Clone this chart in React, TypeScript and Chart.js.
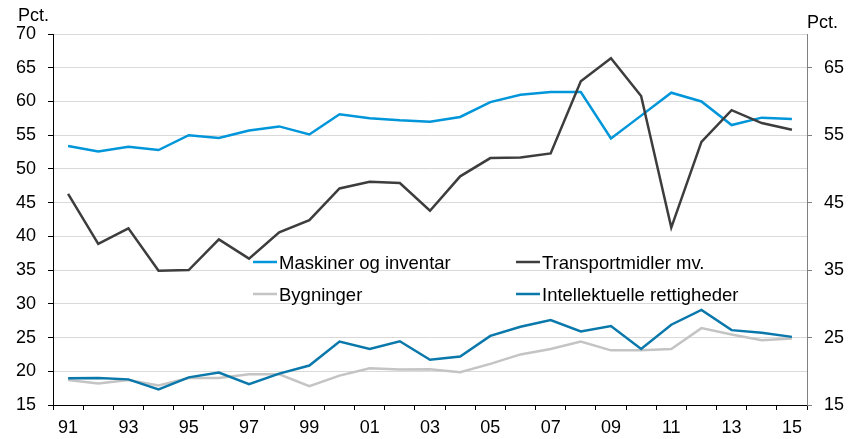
import { useEffect, useRef } from 'react';
import { Chart, registerables } from 'chart.js';

Chart.register(...registerables);

const years = ['91','92','93','94','95','96','97','98','99','00','01','02','03','04','05','06','07','08','09','10','11','12','13','14','15'];

const maskiner = [53.4, 52.6, 53.3, 52.8, 55.0, 54.6, 55.7, 56.3, 55.1, 58.1, 57.5, 57.2, 57.0, 57.7, 59.9, 61.0, 61.4, 61.4, 54.5, 57.9, 61.3, 60.0, 56.5, 57.6, 57.4];
const transport = [46.3, 38.9, 41.2, 34.9, 35.0, 39.55, 36.7, 40.6, 42.4, 47.1, 48.1, 47.9, 43.8, 48.9, 51.6, 51.7, 52.3, 63.0, 66.4, 60.8, 41.3, 54.0, 58.7, 56.8, 55.8];
const bygninger = [18.7, 18.2, 18.7, 17.9, 19.0, 19.0, 19.55, 19.55, 17.8, 19.35, 20.45, 20.25, 20.3, 19.85, 21.1, 22.5, 23.3, 24.4, 23.1, 23.1, 23.3, 26.4, 25.45, 24.6, 24.85];
const intellektuelle = [18.96, 19.0, 18.8, 17.3, 19.1, 19.8, 18.1, 19.65, 20.85, 24.4, 23.3, 24.45, 21.7, 22.2, 25.25, 26.6, 27.6, 25.9, 26.7, 23.3, 26.9, 29.1, 26.1, 25.7, 25.1];

const leftTicks = [15, 20, 25, 30, 35, 40, 45, 50, 55, 60, 65, 70];
const rightTicks = [15, 25, 35, 45, 55, 65];

const seriesNames = ['Maskiner og inventar', 'Transportmidler mv.', 'Bygninger', 'Intellektuelle rettigheder'];
const seriesColors = ['#0096d9', '#3d3d3d', '#c4c4c4', '#0a78aa'];

const FONT = "'Liberation Sans', Arial, Helvetica, sans-serif";

export default function App() {
  const ref = useRef<HTMLCanvasElement>(null);

  useEffect(() => {
    if (!ref.current) return;

    const overlay = {
      id: 'overlay',
      afterDraw(chart: any) {
        const ctx = chart.ctx;
        const area = chart.chartArea;
        ctx.save();
        ctx.fillStyle = '#000';
        ctx.font = `18px ${FONT}`;
        ctx.textAlign = 'left';
        ctx.textBaseline = 'alphabetic';
        ctx.fillText('Pct.', 18, 21);
        ctx.fillText('Pct.', area.right, 28);

        // legend (2 columns x 2 rows)
        const cols = [area.left + 200, area.left + 463];
        const rows = [area.top + 228, area.top + 260];
        const order = [0, 1, 2, 3];
        ctx.font = `18.5px ${FONT}`;
        order.forEach((i, k) => {
          const cx = cols[k % 2];
          const cy = rows[Math.floor(k / 2)];
          ctx.strokeStyle = seriesColors[i];
          ctx.lineWidth = 2.5;
          ctx.beginPath();
          ctx.moveTo(cx, cy);
          ctx.lineTo(cx + 24, cy);
          ctx.stroke();
          ctx.fillStyle = '#000';
          ctx.fillText(seriesNames[i], cx + 26, cy + 7);
        });
        ctx.restore();
      },
    };

    const seriesData = [maskiner, transport, bygninger, intellektuelle];
    const drawOrder = [2, 1, 3, 0];

    const chart = new Chart(ref.current, {
      type: 'line',
      data: {
        labels: years,
        datasets: seriesData.map((d, i) => ({
          label: seriesNames[i],
          data: d,
          borderColor: seriesColors[i],
          backgroundColor: seriesColors[i],
          borderWidth: 2.5,
          pointRadius: 0,
          tension: 0,
          fill: false,
          yAxisID: 'y',
          order: drawOrder[i],
        })),
      },
      options: {
        responsive: false,
        animation: false,
        devicePixelRatio: 1,
        layout: { padding: { top: 34, left: 0, right: 0, bottom: 0 } },
        plugins: {
          legend: { display: false },
          tooltip: { enabled: false },
          title: { display: false },
        },
        scales: {
          x: {
            type: 'category',
            offset: true,
            grid: {
              offset: true,
              drawOnChartArea: false,
              drawTicks: true,
              tickLength: 5,
              color: '#000',
              tickColor: '#000',
            },
            border: { display: true, color: '#000', width: 1 },
            ticks: {
              autoSkip: false,
              maxRotation: 0,
              minRotation: 0,
              padding: 7,
              color: '#000',
              font: { family: FONT, size: 18 },
              callback: (_v: any, i: number) => (i % 2 === 0 ? years[i] : ''),
            },
            afterFit: (s: any) => { s.height = 34; },
          },
          y: {
            type: 'linear',
            position: 'left',
            min: 15,
            max: 70,
            afterBuildTicks: (s: any) => { s.ticks = leftTicks.map((v) => ({ value: v })); },
            grid: {
              color: '#d9d9d9',
              lineWidth: 1,
              drawTicks: true,
              tickLength: 5,
              tickColor: '#000',
            },
            border: { display: true, color: '#000', width: 1 },
            ticks: {
              padding: 12,
              color: '#000',
              font: { family: FONT, size: 18 },
            },
            afterFit: (s: any) => { s.width = 53; },
          },
          y2: {
            type: 'linear',
            position: 'right',
            min: 15,
            max: 70,
            afterBuildTicks: (s: any) => { s.ticks = rightTicks.map((v) => ({ value: v })); },
            grid: {
              drawOnChartArea: false,
              drawTicks: true,
              tickLength: 5,
              color: '#808080',
              tickColor: '#808080',
            },
            border: { display: true, color: '#808080', width: 1 },
            ticks: {
              padding: 12,
              color: '#000',
              font: { family: FONT, size: 18 },
            },
            afterFit: (s: any) => { s.width = 45; },
          },
        },
      },
      plugins: [overlay],
    });

    return () => chart.destroy();
  }, []);

  return (
    <div style={{ position: 'absolute', left: 0, top: 0, width: 852, height: 439, background: '#fff' }}>
      <canvas ref={ref} width={852} height={439} style={{ display: 'block' }} />
    </div>
  );
}
